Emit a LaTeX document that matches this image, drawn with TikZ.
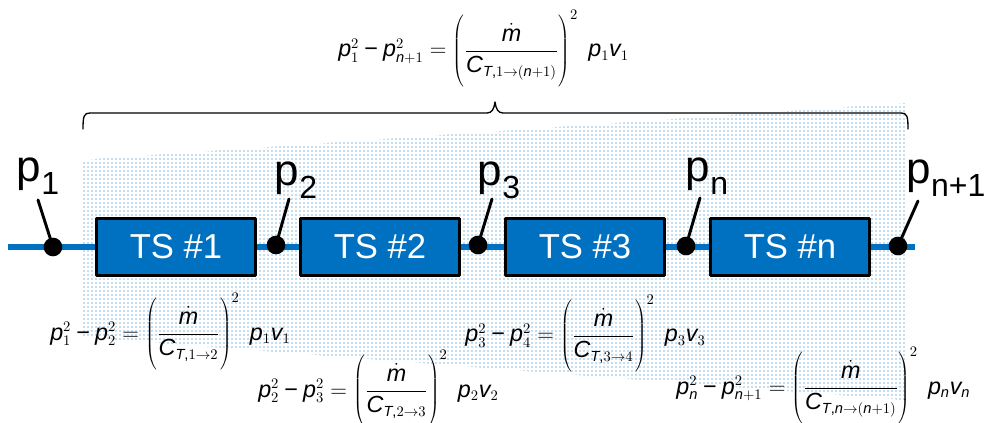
\documentclass[tikz,border=0pt]{standalone}
\usepackage{fontspec}
\setmainfont{Liberation Sans}
\usepackage[italic]{mathastext}
\usetikzlibrary{patterns.meta}
\definecolor{tsblue}{RGB}{0,112,192}
\DeclareMathSizes{17.5}{17.5}{11}{8.5}
\newcommand{\plab}[2][-10pt]{p\raisebox{#1}{\fontsize{24}{24}\selectfont #2}}
\newcommand{\tallpar}{\rule[-25pt]{0pt}{57pt}}
\newcommand{\mminus}{\mathbin{\hbox{\char"2212}}}

\begin{document}
\begin{tikzpicture}[
  x=0.75pt,
  y=-0.75pt,
  line cap=round,
  line join=round,
  tsbox/.style={
    draw=black,
    line width=1.8pt,
    fill=tsblue,
    text=white,
    minimum width=119pt,
    minimum height=43pt,
    inner sep=0pt,
    font=\fontsize{26}{30}\selectfont
  },
  tap/.style={circle,fill=black,minimum size=14pt,inner sep=0pt},
  leader/.style={line width=2.2pt},
  plabel/.style={inner sep=0pt,font=\fontsize{33}{36}\selectfont},
  eqn/.style={
    anchor=base west,
    inner sep=0pt,
    font=\fontsize{17.5}{21}\selectfont
  }
]
  \useasboundingbox (0,0) rectangle (987,423);

  % Заштрихованная область
  \path[
    pattern={Dots[distance=3pt,radius=0.45pt]},
    pattern color=tsblue
  ]
    (82,160) -- (906,103) -- (906,400) -- (82,337) -- cycle;

  % Фигурная скобка над всеми секциями
  \coordinate (bl) at (83,129);
  \coordinate (br) at (908,129);
  \draw[line width=1pt]
    (bl) .. controls (83,116) and (84,113) .. (90,113)
    -- (487,113) .. controls (492,113) and (494,109) .. (495,102)
    .. controls (496,109) and (498,113) .. (503,113)
    -- (901,113) .. controls (907,113) and (908,116) .. (br);

  % Трубопровод
  \coordinate (lstart) at (8,247);
  \coordinate (lend) at (915,247);
  \draw[tsblue,line width=3.8pt,line cap=butt] (lstart) -- (lend);

  % Секции
  \node[tsbox] (ts1) at (176,247) {TS \#1};
  \node[tsbox] (ts2) at (380,247) {TS \#2};
  \node[tsbox] (ts3) at (585,247) {TS \#3};
  \node[tsbox] (tsn) at (790,247) {TS \#n};

  % Точки отбора давления
  \node[tap] (d1) at (53,247) {};
  \node[tap] (d2) at (276,245) {};
  \node[tap] (d3) at (478,245) {};
  \node[tap] (dn) at (686,246) {};
  \node[tap] (dm) at (898,246) {};

  \coordinate (t1) at (38,200);
  \coordinate (t2) at (289,199);
  \coordinate (t3) at (492,199);
  \coordinate (tn) at (700,198);
  \coordinate (tm) at (918,201);

  \draw[leader] (d1.center) -- (t1);
  \draw[leader] (d2.center) -- (t2);
  \draw[leader] (d3.center) -- (t3);
  \draw[leader] (dn.center) -- (tn);
  \draw[leader] (dm.center) -- (tm);

  \node[plabel] (l1) at (38,176) {\plab{1}};
  \node[plabel] (l2) at (296,180) {\plab{2}};
  \node[plabel] (l3) at (499,180) {\plab{3}};
  \node[plabel] (ln) at (707,176) {\plab{n}};
  \node[plabel] (lm) at (946,178) {\plab{n+1}};

  % Уравнения
  \node[eqn] (eqall) at (338,57)
    {$p_1^2 \mminus p_{n+1}^2 = \left(\tallpar\displaystyle\frac{\dot m}{C_{T,1\to(n+1)}}\right)^{2}\; p_1 v_1$};
  \node[eqn] (eq1) at (50,340)
    {$p_1^2 \mminus p_2^2 = \left(\tallpar\displaystyle\frac{\dot m}{C_{T,1\to2}}\right)^{2}\; p_1 v_1$};
  \node[eqn] (eq2) at (258,397)
    {$p_2^2 \mminus p_3^2 = \left(\tallpar\displaystyle\frac{\dot m}{C_{T,2\to3}}\right)^{2}\; p_2 v_2$};
  \node[eqn] (eq3) at (465,342)
    {$p_3^2 \mminus p_4^2 = \left(\tallpar\displaystyle\frac{\dot m}{C_{T,3\to4}}\right)^{2}\; p_3 v_3$};
  \node[eqn] (eqn) at (676,394)
    {$p_n^2 \mminus p_{n+1}^2 = \left(\tallpar\displaystyle\frac{\dot m}{C_{T,n\to(n+1)}}\right)^{2}\; p_n v_n$};
\end{tikzpicture}
\end{document}
